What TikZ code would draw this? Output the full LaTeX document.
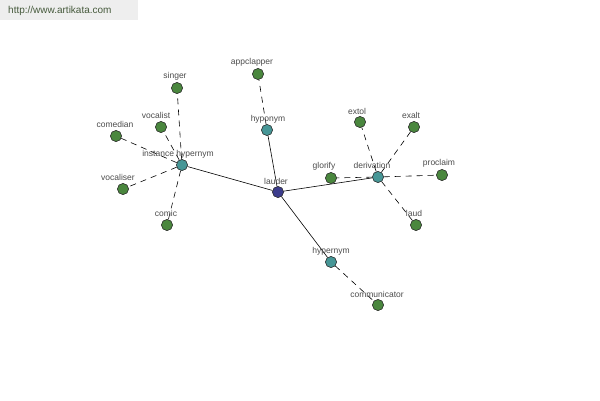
\documentclass[tikz,border=0pt]{standalone}
\usepackage{fontspec}
\setmainfont{Liberation Sans}
\begin{document}
\begin{tikzpicture}[x=1pt,y=-1pt,
  dot/.style={circle,draw=black!80,line width=0.5pt,minimum size=11pt,inner sep=0pt},
  leaf/.style={dot,fill=leafgreen},
  hub/.style={dot,fill=hubteal},
  root/.style={dot,fill=rootblue},
  lbl/.style={font=\fontsize{8.5}{9}\selectfont,text=black!70,inner sep=0pt},
  solidedge/.style={draw=black,line width=0.6pt},
  dashedge/.style={draw=black,line width=0.6pt,dash pattern=on 6pt off 5pt}]
\definecolor{leafgreen}{RGB}{74,135,62}
\definecolor{hubteal}{RGB}{70,150,150}
\definecolor{rootblue}{RGB}{60,60,140}
\definecolor{hdrgray}{RGB}{238,238,238}
\definecolor{hdrtext}{RGB}{70,90,60}
\useasboundingbox (0,0) rectangle (600,400);
\fill[white] (0,0) rectangle (600,400);
\fill[hdrgray] (0,0) rectangle (138,20);
\node[font=\fontsize{10}{11}\selectfont,text=hdrtext,anchor=west,inner sep=0pt] (hdr) at (8,11) {http://www.artikata.com};
% nodes
\node[root] (lauder) at (278,192) {};
\node[hub] (hyponym) at (267,130) {};
\node[hub] (inst) at (182,165) {};
\node[hub] (deriv) at (378,177) {};
\node[hub] (hyper) at (331,262) {};
\node[leaf] (appclapper) at (258,74) {};
\node[leaf] (singer) at (177,88) {};
\node[leaf] (vocalist) at (161,127) {};
\node[leaf] (comedian) at (116,136) {};
\node[leaf] (vocaliser) at (123,189) {};
\node[leaf] (comic) at (167,225) {};
\node[leaf] (glorify) at (331,178) {};
\node[leaf] (extol) at (360,122) {};
\node[leaf] (exalt) at (414,127) {};
\node[leaf] (proclaim) at (442,175) {};
\node[leaf] (laud) at (416,225) {};
\node[leaf] (communicator) at (378,305) {};
% edges
\path[solidedge] (lauder) -- (hyponym);
\path[solidedge] (lauder) -- (inst);
\path[solidedge] (lauder) -- (deriv);
\path[solidedge] (lauder) -- (hyper);
\path[dashedge] (hyponym) -- (appclapper);
\path[dashedge] (inst) -- (singer);
\path[dashedge] (inst) -- (vocalist);
\path[dashedge] (inst) -- (comedian);
\path[dashedge] (inst) -- (vocaliser);
\path[dashedge] (inst) -- (comic);
\path[dashedge] (deriv) -- (glorify);
\path[dashedge] (deriv) -- (extol);
\path[dashedge] (deriv) -- (exalt);
\path[dashedge] (deriv) -- (proclaim);
\path[dashedge] (deriv) -- (laud);
\path[dashedge] (hyper) -- (communicator);
% redraw nodes on top
\foreach \n/\s in {lauder/root,hyponym/hub,inst/hub,deriv/hub,hyper/hub,appclapper/leaf,singer/leaf,vocalist/leaf,comedian/leaf,vocaliser/leaf,comic/leaf,glorify/leaf,extol/leaf,exalt/leaf,proclaim/leaf,laud/leaf,communicator/leaf}
  \node[\s] at (\n) {};
% labels
\node[lbl] (t-lauder) at (276,181) {lauder};
\node[lbl] (t-hyponym) at (268,119) {hyponym};
\node[lbl] (t-inst) at (178,154) {instance hypernym};
\node[lbl] (t-deriv) at (372,165) {derivation};
\node[lbl] (t-hyper) at (331,251) {hypernym};
\node[lbl] (t-appclapper) at (252,62) {appclapper};
\node[lbl] (t-singer) at (175,76) {singer};
\node[lbl] (t-vocalist) at (156,115) {vocalist};
\node[lbl] (t-comedian) at (115,124) {comedian};
\node[lbl] (t-vocaliser) at (118,177) {vocaliser};
\node[lbl] (t-comic) at (166,213) {comic};
\node[lbl] (t-glorify) at (324,166) {glorify};
\node[lbl] (t-extol) at (357,111) {extol};
\node[lbl] (t-exalt) at (411,115) {exalt};
\node[lbl] (t-proclaim) at (439,163) {proclaim};
\node[lbl] (t-laud) at (414,213) {laud};
\node[lbl] (t-communicator) at (377,294) {communicator};
\end{tikzpicture}
\end{document}
